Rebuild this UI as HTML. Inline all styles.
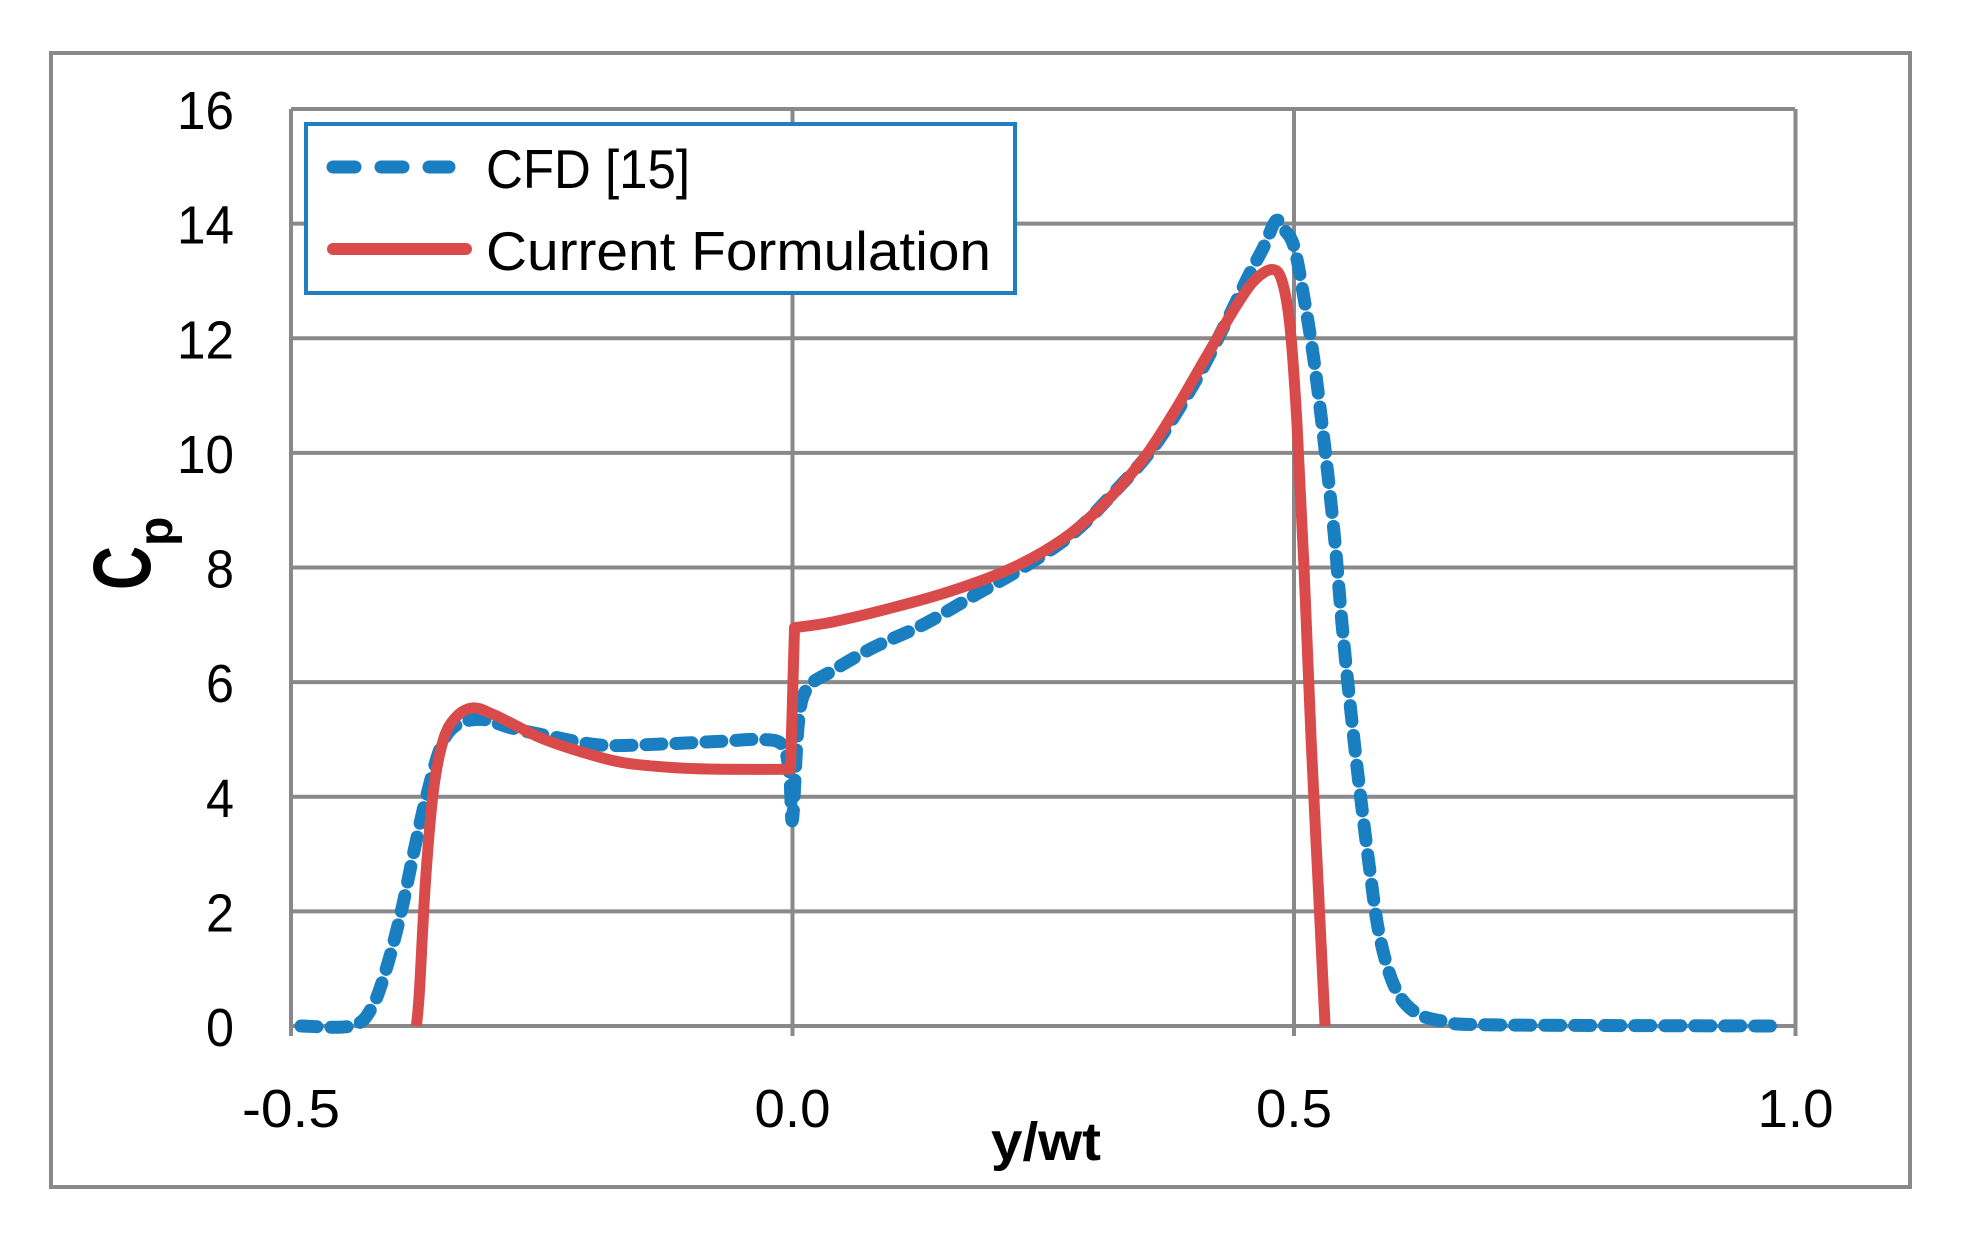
<!DOCTYPE html>
<html><head><meta charset="utf-8"><style>
html,body{margin:0;padding:0;background:#fff;}
svg text{font-family:"Liberation Sans",sans-serif;fill:#000;}
</style></head><body>
<svg id="s" width="1966" height="1245" viewBox="0 0 1966 1245" xmlns="http://www.w3.org/2000/svg">
<rect x="0" y="0" width="1966" height="1245" fill="#fff"/>
<rect x="51" y="53" width="1859" height="1134" fill="none" stroke="#898989" stroke-width="4"/>
<g id="grid" stroke="#898989" stroke-width="4" fill="none"></g>
<g id="labels" font-size="54"></g>
<text x="1046" y="1160" font-size="54" font-weight="bold" text-anchor="middle" textLength="110" lengthAdjust="spacingAndGlyphs">y/wt</text>
<g transform="translate(150,590) rotate(-90)">
<text x="0" y="0" font-size="82" font-weight="bold" textLength="44" lengthAdjust="spacingAndGlyphs">C</text>
<text x="44" y="22" font-size="48" font-weight="bold">p</text>
</g>
<path id="blue" fill="none" stroke="#1a7fc1" stroke-width="13" stroke-linecap="round" stroke-linejoin="round" stroke-dasharray="16 14"/>
<path id="red" fill="none" stroke="#d94b4a" stroke-width="11" stroke-linejoin="round"/>
<rect x="306" y="124" width="709" height="169" fill="#fff" stroke="#1f7fc0" stroke-width="4"/>
<line x1="333" y1="167" x2="449" y2="167" stroke="#1a7fc1" stroke-width="13" stroke-linecap="round" stroke-dasharray="22 26"/>
<line x1="333" y1="249" x2="466" y2="249" stroke="#d94b4a" stroke-width="12" stroke-linecap="round"/>
<text x="486" y="188" font-size="55" textLength="204" lengthAdjust="spacingAndGlyphs">CFD [15]</text>
<text x="486" y="270" font-size="55" textLength="505" lengthAdjust="spacingAndGlyphs">Current Formulation</text>
</svg>
<script>
var X=function(u){return 291+(u+0.5)*1003;};
var Y=function(v){return 1026-v*57.31;};
var NS="http://www.w3.org/2000/svg";
var g=document.getElementById('grid'),lb=document.getElementById('labels');
for(var i=0;i<=8;i++){var y=Y(i*2);var l=document.createElementNS(NS,'line');
l.setAttribute('x1',291);l.setAttribute('x2',1795);l.setAttribute('y1',y);l.setAttribute('y2',y);g.appendChild(l);
var t=document.createElementNS(NS,'text');var s=String(i*2);t.textContent=s;t.setAttribute('x',234);t.setAttribute('y',y+20);
t.setAttribute('text-anchor','end');t.setAttribute('textLength',s.length==1?28:57);t.setAttribute('lengthAdjust','spacingAndGlyphs');lb.appendChild(t);}
var xl=['-0.5','0.0','0.5','1.0'];
for(var j=0;j<4;j++){var x=X(-0.5+j*0.5);var l=document.createElementNS(NS,'line');
l.setAttribute('x1',x);l.setAttribute('x2',x);l.setAttribute('y1',Y(16));l.setAttribute('y2',1036);g.appendChild(l);
var t=document.createElementNS(NS,'text');t.textContent=xl[j];t.setAttribute('x',x);t.setAttribute('y',1127);
t.setAttribute('text-anchor','middle');t.setAttribute('textLength',j==0?98:76);t.setAttribute('lengthAdjust','spacingAndGlyphs');lb.appendChild(t);}
function cr(pts){var p=pts.map(function(q){return [X(q[0]),Y(q[1])];});
var d='M'+p[0][0].toFixed(1)+' '+p[0][1].toFixed(1);
for(var i=0;i<p.length-1;i++){var p0=p[i-1]||p[i],p1=p[i],p2=p[i+1],p3=p[i+2]||p2;
var c1=[p1[0]+(p2[0]-p0[0])/6,p1[1]+(p2[1]-p0[1])/6],c2=[p2[0]-(p3[0]-p1[0])/6,p2[1]-(p3[1]-p1[1])/6];
d+=' C'+c1[0].toFixed(1)+' '+c1[1].toFixed(1)+' '+c2[0].toFixed(1)+' '+c2[1].toFixed(1)+' '+p2[0].toFixed(1)+' '+p2[1].toFixed(1);}
return d;}
var redA=[[-0.375,0],[-0.372,0.6],[-0.366,2.5],[-0.358,4.1],[-0.348,5.0],[-0.335,5.4],[-0.318,5.55],[-0.3,5.45],[-0.28,5.28],[-0.25,5.02],[-0.21,4.78],[-0.17,4.6],[-0.12,4.51],[-0.07,4.48],[-0.002,4.48]];
var redB=[[0.002,6.95],[0.04,7.05],[0.1,7.3],[0.16,7.6],[0.22,8.0],[0.27,8.5],[0.31,9.1],[0.35,9.9],[0.38,10.7],[0.41,11.6],[0.44,12.5],[0.46,13.0],[0.478,13.2],[0.488,13.0],[0.496,12.2],[0.503,10.5],[0.51,8],[0.517,5],[0.524,2.5],[0.531,0]];
document.getElementById('red').setAttribute('d',cr(redA)+' L'+X(0.002)+' '+Y(6.95)+' '+cr(redB).replace(/^M/,'L'));
var blue=[[-0.49,0],[-0.44,0],[-0.42,0.3],[-0.405,1],[-0.39,2],[-0.378,3],[-0.365,4],[-0.35,4.9],[-0.335,5.25],[-0.31,5.35],[-0.28,5.2],[-0.24,5.05],[-0.19,4.9],[-0.13,4.92],[-0.07,4.97],[-0.03,5.0],[-0.01,4.9],[-0.003,4.4],[0.0,3.6],[0.006,5.3],[0.015,5.9],[0.04,6.2],[0.08,6.6],[0.13,7.0],[0.18,7.5],[0.23,8.0],[0.28,8.6],[0.32,9.3],[0.36,10.1],[0.4,11.2],[0.43,12.2],[0.455,13.1],[0.47,13.6],[0.482,14.05],[0.49,13.9],[0.5,13.6],[0.51,12.7],[0.52,11.6],[0.53,10.2],[0.54,8.6],[0.548,7.0],[0.556,5.6],[0.565,4.2],[0.575,2.8],[0.585,1.6],[0.6,0.7],[0.62,0.25],[0.65,0.08],[0.7,0.02],[0.975,0]];
document.getElementById('blue').setAttribute('d',cr(blue));
</script>
</body></html>
